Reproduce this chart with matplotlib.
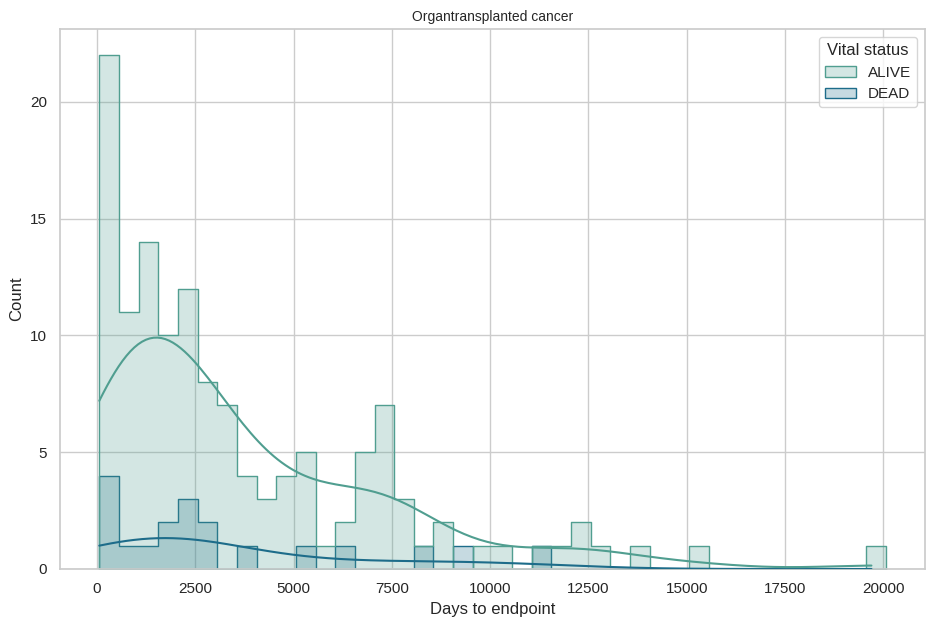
import numpy as np
import pandas as pd
import seaborn as sns
import matplotlib.pyplot as plt

# histogram: 40 bins of 500 days starting at day 60
bin_start = 60
bin_width = 500
alive_counts = [22, 11, 14, 10, 12, 8, 7, 4, 3, 4,
                5, 1, 2, 5, 7, 3, 1, 2, 0, 1,
                1, 0, 1, 1, 2, 1, 0, 1, 0, 0,
                1, 0, 0, 0, 0, 0, 0, 0, 0, 1]
dead_counts = [4, 1, 1, 2, 3, 2, 0, 1, 0, 0,
               1, 0, 1, 0, 0, 0, 1, 0, 1, 0,
               0, 0, 1, 0, 0, 0, 0, 0, 0, 0,
               0, 0, 0, 0, 0, 0, 0, 0, 0, 0]
data_min, data_max = 60, 19700

edges = bin_start + bin_width * np.arange(len(alive_counts) + 1)
centers = (edges[:-1] + edges[1:]) / 2

df = pd.DataFrame({
    "Days to endpoint": np.concatenate([np.repeat(centers, alive_counts),
                                        np.repeat(centers, dead_counts)]),
    "Vital status": ["ALIVE"] * sum(alive_counts) + ["DEAD"] * sum(dead_counts),
})

sns.set_theme(style="whitegrid")
plt.rcParams["font.family"] = ["Liberation Sans", "DejaVu Sans"]
plt.rcParams["xtick.labelsize"] = 11
plt.rcParams["ytick.labelsize"] = 11
plt.rcParams["axes.labelsize"] = 12
plt.rcParams["axes.titlesize"] = 10
plt.rcParams["legend.fontsize"] = 11
plt.rcParams["legend.title_fontsize"] = 12

fig = plt.figure(figsize=(9.26, 6.2), dpi=100)
ax = fig.add_axes([0.0648, 0.0823, 0.934, 0.8704])

sns.histplot(data=df, x="Days to endpoint", hue="Vital status",
             hue_order=["ALIVE", "DEAD"], palette="crest",
             bins=edges, element="step", kde=True,
             kde_kws=dict(cut=30, clip=(data_min, data_max)), ax=ax)

# keep the flat kde tails visible above the bottom spine
for line in ax.lines:
    line.set_zorder(3)

ax.set_title("Organtransplanted cancer")
ax.set_xlim(-940, 21060)

fig.savefig("out.png", dpi=100)
